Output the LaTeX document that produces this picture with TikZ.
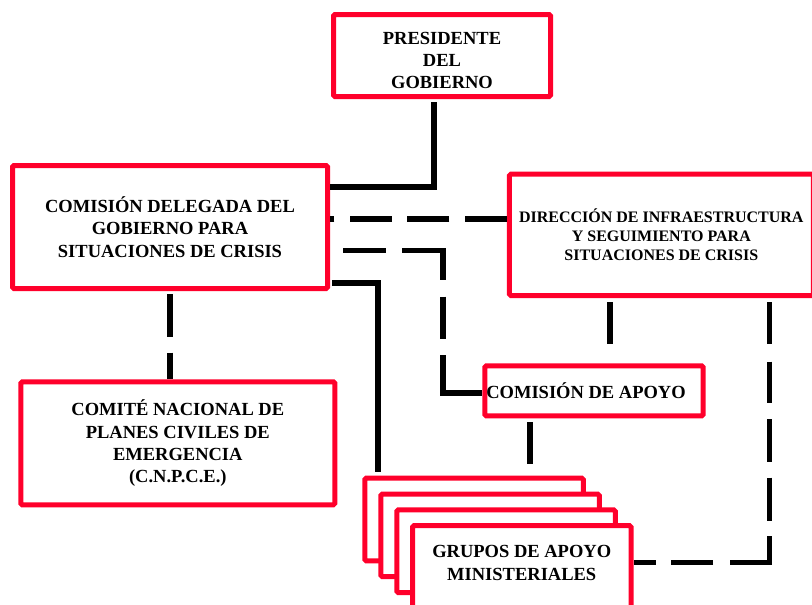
\documentclass[tikz,border=0pt]{standalone}
\usepackage{fontspec}
\setmainfont{Liberation Serif}
\definecolor{boxred}{RGB}{255,0,43}
\tikzset{
  box/.style={draw=boxred, line width=5pt, rounded corners=1.5pt, fill=white,
    inner sep=0pt, align=center, font=\bfseries\fontsize{18.5}{22.3}\selectfont},
  link/.style={line width=5.5pt, draw=black, line join=miter},
}
\begin{document}
\begin{tikzpicture}[x=1pt,y=-1pt]
\useasboundingbox (0,0) rectangle (812,605);
\clip (0,0) rectangle (812,605);
% boxes
\node[box, minimum width=217pt, minimum height=82pt, text height=66.9pt, text depth=0pt] (pres) at (442,55.5)
  {PRESIDENTE\\DEL\\GOBIERNO};
\node[box, minimum width=315pt, minimum height=123pt] (cdg) at (170,227)
  {COMISIÓN DELEGADA DEL\\GOBIERNO PARA\\SITUACIONES DE CRISIS};
\node[box, minimum width=304pt, minimum height=121.3pt,
  font=\bfseries\fontsize{16}{19.3}\selectfont] (dir) at (661.35,234.85)
  {DIRECCIÓN DE INFRAESTRUCTURA\\Y SEGUIMIENTO PARA\\SITUACIONES DE CRISIS};
\node[box, minimum width=218.4pt, minimum height=50pt] (apo) at (594,390.8)
  {COMISIÓN DE APOYO\hspace*{16pt}};
\node[box, minimum width=314pt, minimum height=123pt] (cnp) at (177.8,443.3)
  {COMITÉ NACIONAL DE\\PLANES CIVILES DE\\EMERGENCIA\\(C.N.P.C.E.)};
\node[box, minimum width=218.5pt, minimum height=82.6pt] (g1) at (474,519.5) {};
\node[box, minimum width=218.5pt, minimum height=82.6pt] (g2) at (490,535.4) {};
\node[box, minimum width=218.5pt, minimum height=82.6pt] (g3) at (506,551.2) {};
\node[box, minimum width=218.5pt, minimum height=82.6pt, text height=34.55pt, text depth=8pt] (g4) at (521.75,567)
  {GRUPOS DE APOYO\\MINISTERIALES};
% connectors
\draw[link, shorten <=3pt] ([xshift=-8pt]pres.south) |- ([yshift=40pt]cdg.east);
\draw[link, dash pattern=on 42pt off 15.5pt]
  ([yshift=15.85pt]dir.west) -- ([yshift=15.85pt]dir.west -| cdg.east);
\draw[link, dash pattern=on 42.7pt off 16.3pt on 70.3pt off 16.7pt on 42.6pt off 16pt on 80pt off 13pt, dash phase=284.6pt]
  ([yshift=-23.7pt]cdg.east) -- ++(113,0) |- ([yshift=-2.2pt]apo.west);
\draw[link, shorten <=2.3pt, shorten >=3.4pt]
  ([yshift=-56pt]cdg.east) -| ([xshift=-96pt]g1.north);
\draw[link, dash pattern=on 42.7pt off 16pt, dash phase=55.7pt]
  (cdg.south) -- (cdg.south |- cnp.north);
\draw[link, dash pattern=on 41.7pt off 30pt, dash phase=67.4pt]
  ([xshift=-51.35pt]dir.south) -- ([xshift=-51.35pt]dir.south |- apo.north);
\draw[link, dash pattern=on 42pt off 30pt, dash phase=68pt]
  ([xshift=-64pt]apo.south) -- ([xshift=-64pt]apo.south |- g1.north);
\draw[link, dash pattern=on 42pt off 17.7pt on 41.6pt off 16pt on 42.4pt off 16pt on 43pt off 15.3pt on 66.5pt off 16.7pt on 42.3pt off 15pt on 22pt off 4pt, dash phase=396.5pt]
  ([xshift=108.35pt]dir.south) |- ([yshift=4.3pt]g4.east);
\end{tikzpicture}
\end{document}
